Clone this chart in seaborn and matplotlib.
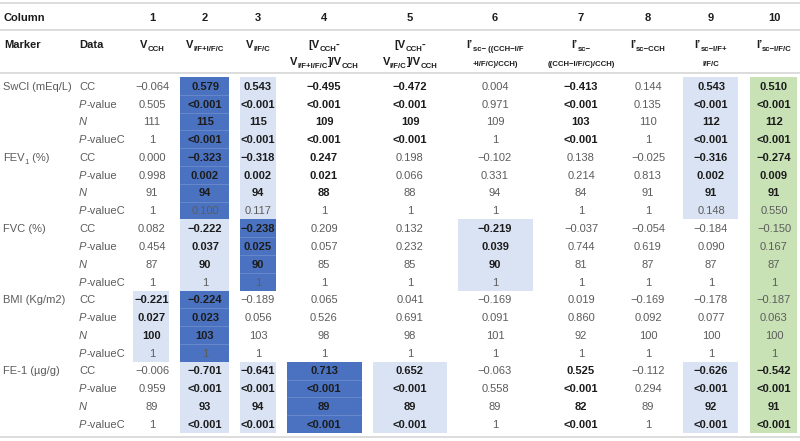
import matplotlib
matplotlib.use("Agg")
import numpy as np
import matplotlib.pyplot as plt
from matplotlib.colors import ListedColormap
import seaborn as sns

sns.set_theme(style="white")
plt.rcParams['font.family'] = ['Liberation Sans', 'DejaVu Sans']

# ---- data ----
markers = ["SwCl (mEq/L)", "FEV1 (%)", "FVC (%)", "BMI (Kg/m2)", "FE-1 (\u00b5g/g)"]
stat_labels = ["CC", "P-value", "N", "P-valueC"]
column_ids = ["1", "2", "3", "4", "5", "6", "7", "8", "9", "10"]

cc = [
    ["-0.064", "0.579", "0.543", "-0.495", "-0.472", "0.004", "-0.413", "0.144", "0.543", "0.510"],
    ["0.000", "-0.323", "-0.318", "0.247", "0.198", "-0.102", "0.138", "-0.025", "-0.316", "-0.274"],
    ["0.082", "-0.222", "-0.238", "0.209", "0.132", "-0.219", "-0.037", "-0.054", "-0.184", "-0.150"],
    ["-0.221", "-0.224", "-0.189", "0.065", "0.041", "-0.169", "0.019", "-0.169", "-0.178", "-0.187"],
    ["-0.006", "-0.701", "-0.641", "0.713", "0.652", "-0.063", "0.525", "-0.112", "-0.626", "-0.542"],
]
p_value = [
    ["0.505", "<0.001", "<0.001", "<0.001", "<0.001", "0.971", "<0.001", "0.135", "<0.001", "<0.001"],
    ["0.998", "0.002", "0.002", "0.021", "0.066", "0.331", "0.214", "0.813", "0.002", "0.009"],
    ["0.454", "0.037", "0.025", "0.057", "0.232", "0.039", "0.744", "0.619", "0.090", "0.167"],
    ["0.027", "0.023", "0.056", "0.526", "0.691", "0.091", "0.860", "0.092", "0.077", "0.063"],
    ["0.959", "<0.001", "<0.001", "<0.001", "<0.001", "0.558", "<0.001", "0.294", "<0.001", "<0.001"],
]
n_obs = [
    ["111", "115", "115", "109", "109", "109", "103", "110", "112", "112"],
    ["91", "94", "94", "88", "88", "94", "84", "91", "91", "91"],
    ["87", "90", "90", "85", "85", "90", "81", "87", "87", "87"],
    ["100", "103", "103", "98", "98", "101", "92", "100", "100", "100"],
    ["89", "93", "94", "89", "89", "89", "82", "89", "92", "91"],
]
p_value_c = [
    ["1", "<0.001", "<0.001", "<0.001", "<0.001", "1", "<0.001", "1", "<0.001", "<0.001"],
    ["1", "0.100", "0.117", "1", "1", "1", "1", "1", "0.148", "0.550"],
    ["1", "1", "1", "1", "1", "1", "1", "1", "1", "1"],
    ["1", "1", "1", "1", "1", "1", "1", "1", "1", "1"],
    ["1", "<0.001", "<0.001", "<0.001", "<0.001", "1", "<0.001", "1", "<0.001", "<0.001"],
]
# 0 none, 1 light blue, 2 dark blue, 3 green
highlight = [
    [0, 2, 1, 0, 0, 0, 0, 0, 1, 3],
    [0, 2, 1, 0, 0, 0, 0, 0, 1, 3],
    [0, 1, 2, 0, 0, 1, 0, 0, 0, 3],
    [1, 2, 0, 0, 0, 0, 0, 0, 0, 3],
    [0, 1, 1, 2, 1, 0, 0, 0, 1, 3],
]

# ---- layout ----
W, H = 800, 441
FS = 8
DARK = "#1c1c1c"
GRAY = "#5c5c5c"
RULE = "#d6d6d6"
col_x = [152, 205, 258, 324, 410, 495, 581, 648, 711, 774]
box_edges = [(133, 169), (180, 229), (240, 276), (287, 362), (373, 447),
             (458, 533), (545, 617), (628, 668), (683, 738), (750, 797)]
row_top, row_h = 77, 17.8
n_rows = len(markers) * len(stat_labels)

fig = plt.figure(figsize=(W / 100, H / 100), dpi=100)
fig.patch.set_facecolor("white")

# cell backgrounds: one heatmap strip per column
codes = np.repeat(np.array(highlight), len(stat_labels), axis=0).astype(float)
cmap = ListedColormap(["#dae3f3", "#4a72c0", "#c8e2b6"])
for j, (x0, x1) in enumerate(box_edges):
    col = codes[:, j:j + 1]
    if not (col > 0).any():
        continue
    hax = fig.add_axes([x0 / W, 1 - (row_top + n_rows * row_h) / H,
                        (x1 - x0) / W, n_rows * row_h / H])
    sns.heatmap(col, mask=col == 0, cmap=cmap, vmin=0.5, vmax=3.5, cbar=False,
                linewidths=0, xticklabels=False, yticklabels=False, ax=hax)
    hax.set_facecolor("none")
    # faint row separators inside the dark cells
    for k in range(1, n_rows):
        if col[k - 1, 0] == 2 and col[k, 0] == 2:
            hax.plot([0, 1], [k, k], color="#7392d0", lw=0.5)

ax = fig.add_axes([0, 0, 1, 1])
ax.set_xlim(0, W)
ax.set_ylim(H, 0)
ax.set_axis_off()
ax.patch.set_alpha(0)
renderer = fig.canvas.get_renderer()


def rich(x, y, pieces, ha="center", color=DARK, weight="normal", fs=FS):
    arts, widths = [], []
    for txt, kind in pieces:
        size = fs * 0.7 if kind == "sub" else fs
        style = "italic" if kind == "it" else "normal"
        t = ax.text(0, 0, txt, fontsize=size, fontstyle=style, fontweight=weight,
                    color=color, va="baseline", ha="left")
        arts.append((t, kind))
        widths.append(t.get_window_extent(renderer).width)
    x0 = x - sum(widths) / 2 if ha == "center" else x
    for (t, kind), w in zip(arts, widths):
        t.set_position((x0, y + (2.7 if kind == "sub" else 0)))
        x0 += w


# rules
for y in [3, 30, 72.5, 437]:
    ax.plot([0, W], [y, y], color=RULE, lw=1.2, solid_capstyle="butt")

# header
ax.text(4, 21, "Column", fontsize=FS, fontweight="bold", color=DARK, va="baseline")
for x, cid in zip(col_x, column_ids):
    ax.text(x, 21, cid, fontsize=FS, fontweight="bold", color=DARK, va="baseline", ha="center")
ax.text(4, 48, "Marker", fontsize=FS, fontweight="bold", color=DARK, va="baseline")
ax.text(79, 48, "Data", fontsize=FS, fontweight="bold", color=DARK, va="baseline")

header_line1 = [
    [("V", "n"), ("CCH", "sub")],
    [("V", "n"), ("I/F+I/F/C", "sub")],
    [("V", "n"), ("I/F/C", "sub")],
    [("[V", "n"), ("CCH", "sub"), ("-", "n")],
    [("[V", "n"), ("CCH", "sub"), ("-", "n")],
    [("I\u2019", "n"), ("sc\u2212 ((CCH\u2212I/F", "sub")],
    [("I\u2019", "n"), ("sc\u2212", "sub")],
    [("I\u2019", "n"), ("sc\u2212CCH", "sub")],
    [("I\u2019", "n"), ("sc\u2212I/F+", "sub")],
    [("I\u2019", "n"), ("sc\u2212I/F/C", "sub")],
]
header_line2 = [
    None, None, None,
    [("V", "n"), ("I/F+I/F/C", "sub"), ("]/V", "n"), ("CCH", "sub")],
    [("V", "n"), ("I/F/C", "sub"), ("]/V", "n"), ("CCH", "sub")],
    [("+I/F/C)/CCH)", "sub")],
    [("((CCH\u2212I/F/C)/CCH)", "sub")],
    None,
    [("I/F/C", "sub")],
    None,
]
for x, l1, l2 in zip(col_x, header_line1, header_line2):
    rich(x, 48, l1, weight="bold")
    if l2 is not None:
        small = all(k == "sub" for _, k in l2)
        rich(x, 63.5 if small else 65, l2, weight="bold")

# body
stat_pieces = [
    [("CC", "n")],
    [("P", "it"), ("-value", "n")],
    [("N", "it")],
    [("P", "it"), ("-valueC", "n")],
]
marker_pieces = [[(m, "n")] for m in markers]
marker_pieces[1] = [("FEV", "n"), ("1", "sub"), (" (%)", "n")]


def is_sig(s):
    return s.startswith("<") or float(s) < 0.05


for g in range(len(markers)):
    rows = [cc[g], p_value[g], n_obs[g], p_value_c[g]]
    for s in range(len(stat_labels)):
        i = g * len(stat_labels) + s
        yb = row_top + row_h * (i + 0.5) + 3.8
        if s == 0:
            rich(3, yb, marker_pieces[g], ha="left", color=GRAY)
        rich(79, yb, stat_pieces[s], ha="left", color=GRAY)
        for j in range(len(column_ids)):
            sig = is_sig(p_value_c[g][j]) if s == 3 else is_sig(p_value[g][j])
            txt = rows[s][j].replace("-", "\u2212")
            ax.text(col_x[j], yb, txt, fontsize=FS, ha="center", va="baseline",
                    fontweight="bold" if sig else "normal",
                    color=DARK if sig else GRAY)

fig.savefig("out.png", dpi=100, facecolor="white")
